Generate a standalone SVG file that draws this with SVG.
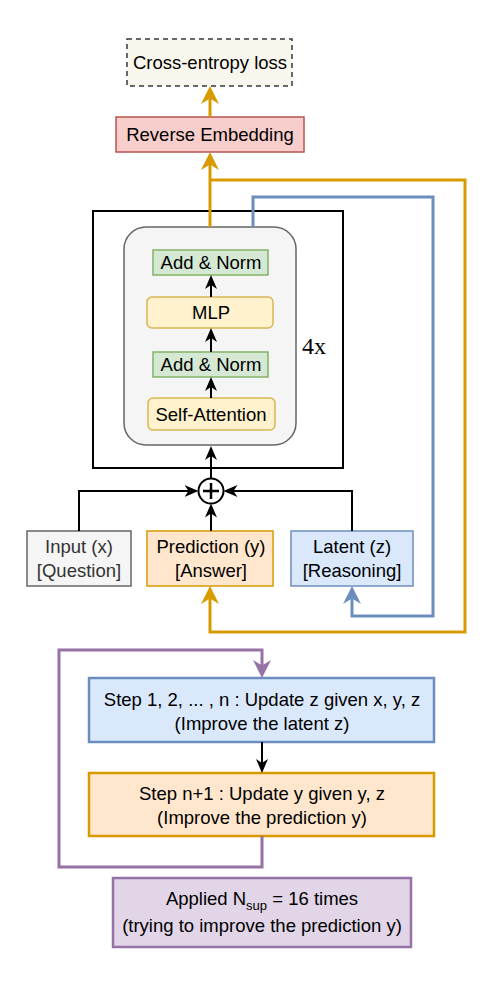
<svg xmlns="http://www.w3.org/2000/svg" width="491" height="985" viewBox="0 0 491 985">
<style>
text{font-family:"Liberation Sans",Arial,Helvetica,sans-serif;font-size:18.5px;fill:#000;text-anchor:middle}
.serif{font-family:"Liberation Serif","Times New Roman",serif;font-size:24px;text-anchor:start}
.conn{fill:none;stroke-linejoin:miter}
.k{stroke:#000;stroke-width:2}
.o{stroke:#d79b00;stroke-width:3}
.b{stroke:#6c8ebf;stroke-width:3}
.p{stroke:#9673a6;stroke-width:3}
</style>
<defs>
<marker id="ak" viewBox="0 0 14 12" refX="10" refY="6" markerWidth="14" markerHeight="12" markerUnits="userSpaceOnUse" orient="auto"><path d="M14,6 L0,0 L4,6 L0,12 Z" fill="#000"/></marker>
<marker id="ao" viewBox="0 0 18 18" refX="14" refY="9" markerWidth="18" markerHeight="18" markerUnits="userSpaceOnUse" orient="auto"><path d="M18,9 L0,0 L5.5,9 L0,18 Z" fill="#d79b00"/></marker>
<marker id="ab" viewBox="0 0 18 18" refX="14" refY="9" markerWidth="18" markerHeight="18" markerUnits="userSpaceOnUse" orient="auto"><path d="M18,9 L0,0 L5.5,9 L0,18 Z" fill="#6c8ebf"/></marker>
<marker id="ap" viewBox="0 0 18 18" refX="14" refY="9" markerWidth="18" markerHeight="18" markerUnits="userSpaceOnUse" orient="auto"><path d="M18,9 L0,0 L5.5,9 L0,18 Z" fill="#9673a6"/></marker>
</defs>
<rect width="491" height="985" fill="#fff"/>

<g id="loss"><rect x="127" y="39" width="165" height="47" fill="#f9f7ed" stroke="#36393d" stroke-width="1.5" stroke-dasharray="5,4"/><text x="210" y="69">Cross-entropy loss</text></g>
<g id="revemb"><rect x="116" y="117" width="188" height="35" fill="#f8cecc" stroke="#b85450" stroke-width="1.5"/><text x="210" y="141">Reverse Embedding</text></g>

<g id="transformer">
<rect x="93" y="211" width="250" height="257" fill="none" stroke="#000" stroke-width="2"/>
<rect x="124" y="227" width="172" height="218" rx="22" fill="#f5f5f5" stroke="#666" stroke-width="1.5"/>
<text class="serif" x="302" y="354">4x</text>
</g>
<g id="addnorm2"><rect x="153" y="250" width="115" height="25" fill="#d5e8d4" stroke="#82b366" stroke-width="1.5"/><text x="211" y="269">Add &amp; Norm</text></g>
<g id="mlp"><rect x="147" y="297" width="126" height="31" rx="5" fill="#fff2cc" stroke="#d6b656" stroke-width="1.5"/><text x="211" y="319">MLP</text></g>
<g id="addnorm1"><rect x="153" y="352" width="115" height="25" fill="#d5e8d4" stroke="#82b366" stroke-width="1.5"/><text x="211" y="371">Add &amp; Norm</text></g>
<g id="selfattn"><rect x="148" y="398" width="127" height="32" rx="5" fill="#fff2cc" stroke="#d6b656" stroke-width="1.5"/><text x="211" y="420.5">Self-Attention</text></g>

<g id="sum"><circle cx="211" cy="491" r="12.5" fill="#fff" stroke="#000" stroke-width="2"/><path d="M203,491 H219 M211,483 V499" stroke="#000" stroke-width="2.5"/></g>

<g id="input"><rect x="27" y="531" width="104" height="55" fill="#f5f5f5" stroke="#666" stroke-width="1.5"/><text x="79" y="553" style="fill:#333">Input (x)</text><text x="79" y="577" style="fill:#333">[Question]</text></g>
<g id="prediction"><rect x="147" y="531" width="126" height="55" fill="#ffe6cc" stroke="#d79b00" stroke-width="1.5"/><text x="211" y="553">Prediction (y)</text><text x="211" y="577">[Answer]</text></g>
<g id="latent"><rect x="291" y="531" width="122" height="55" fill="#dae8fc" stroke="#6c8ebf" stroke-width="1.5"/><text x="352" y="553">Latent (z)</text><text x="352" y="577">[Reasoning]</text></g>

<g id="step1"><rect x="89" y="678" width="345" height="64" fill="#dae8fc" stroke="#6c8ebf" stroke-width="2.5"/><text x="262" y="706">Step 1, 2, ... , n : Update z given x, y, z</text><text x="262" y="730">(Improve the latent z)</text></g>
<g id="step2"><rect x="89" y="773" width="345" height="63" fill="#ffe6cc" stroke="#d79b00" stroke-width="2.5"/><text x="262" y="800">Step n+1 : Update y given y, z</text><text x="262" y="824">(Improve the prediction y)</text></g>
<g id="applied"><rect x="113" y="878" width="298" height="69" fill="#e1d5e7" stroke="#9673a6" stroke-width="2.5"/><text x="262" y="905">Applied N<tspan font-size="13" dy="5">sup</tspan><tspan dy="-5"> = 16 times</tspan></text><text x="262" y="932">(trying to improve the prediction y)</text></g>

<g id="connectors">
<path class="conn o" d="M210,227 V156" marker-end="url(#ao)"/>
<path class="conn o" d="M210,117 V90" marker-end="url(#ao)"/>
<path class="conn o" d="M210,180 H465 V632 H210 V590" marker-end="url(#ao)"/>
<path class="conn b" d="M253,227 V197 H433 V616 H352 V590" marker-end="url(#ab)"/>
<path class="conn k" d="M211,478.5 V450" marker-end="url(#ak)"/>
<path class="conn k" d="M211,398 V381" marker-end="url(#ak)"/>
<path class="conn k" d="M211,352 V332" marker-end="url(#ak)"/>
<path class="conn k" d="M211,297 V279" marker-end="url(#ak)"/>
<path class="conn k" d="M211,531 V507.5" marker-end="url(#ak)"/>
<path class="conn k" d="M79,531 V491 H194.5" marker-end="url(#ak)"/>
<path class="conn k" d="M352,531 V491 H227.5" marker-end="url(#ak)"/>
<path class="conn k" d="M262,742 V769" marker-end="url(#ak)"/>
<path class="conn p" d="M262,836 V867 H59 V650 H262 V674" marker-end="url(#ap)"/>
</g>
</svg>
